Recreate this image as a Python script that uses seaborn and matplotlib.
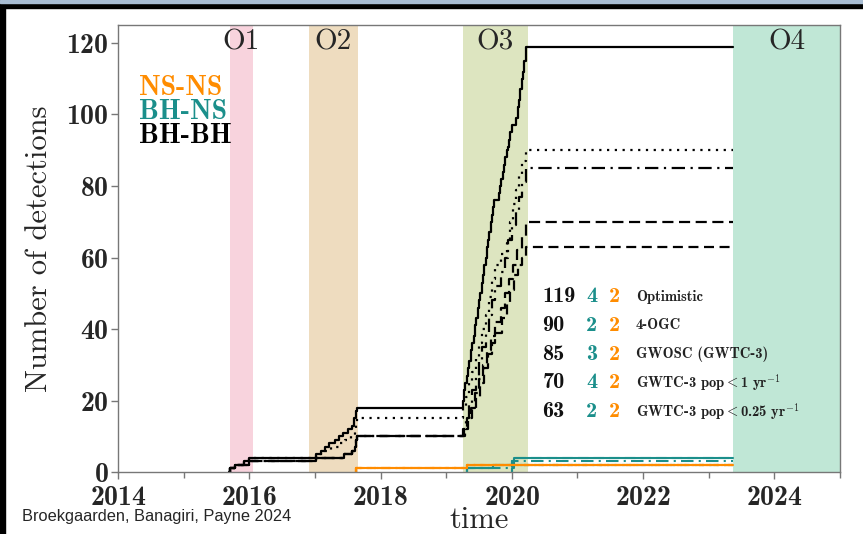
import numpy as np
import seaborn as sns
import matplotlib.pyplot as plt
from matplotlib.patches import Rectangle

# catalogue scenarios and their totals (BH-BH, BH-NS, NS-NS)
scenarios = ['Optimistic', '4-OGC', 'GWOSC (GWTC-3)',
             r'GWTC-3 pop$<$1 yr$^{-1}$', r'GWTC-3 pop$<$0.25 yr$^{-1}$']
n_bbh = [119, 90, 85, 70, 63]
n_nsbh = [4, 2, 3, 4, 2]
n_bns = [2, 2, 2, 2, 2]

# observing runs
runs = ['O1', 'O2', 'O3', 'O4']
run_start = [2015.70, 2016.91, 2019.25, 2023.38]
run_end = [2016.05, 2017.65, 2020.24, 2025.0]
run_colors = ['#f8d3dd', '#eedcbf', '#dde5c0', '#c0e7d6']

END = 2023.38  # curves stop where O4 starts

# cumulative BH-BH detections (time, count)
opt_t = [2015.69, 2015.70, 2015.78, 2015.91, 2015.99, 2017.02, 2017.09, 2017.15, 2017.22,
         2017.30, 2017.37, 2017.42, 2017.50, 2017.56, 2017.60, 2017.62, 2017.64, 2019.25,
         2019.27, 2019.29, 2019.31, 2019.33, 2019.35, 2019.38, 2019.40, 2019.42, 2019.44,
         2019.46, 2019.48, 2019.50, 2019.52, 2019.54, 2019.56, 2019.58, 2019.60, 2019.62,
         2019.64, 2019.66, 2019.68, 2019.70, 2019.72, 2019.73, 2019.80, 2019.82, 2019.84,
         2019.86, 2019.88, 2019.90, 2019.92, 2019.94, 2019.96, 2019.98, 2020.00, 2020.07,
         2020.09, 2020.11, 2020.13, 2020.15, 2020.17, 2020.19, 2020.21, 2020.22, END]
opt_n = [0, 1, 2, 3, 4, 5, 6, 7, 8, 9, 10, 11, 12, 13, 15, 17, 18, 20, 23, 25, 27, 29, 31,
         34, 36, 38, 41, 43, 46, 48, 50, 53, 55, 58, 60, 63, 65, 67, 70, 72, 74, 76, 78, 80,
         82, 84, 86, 88, 90, 91, 93, 95, 97, 99, 102, 104, 107, 110, 112, 115, 117, 119, 119]

ogc_t = [2015.69, 2015.70, 2015.78, 2015.91, 2015.99, 2017.02, 2017.12, 2017.25, 2017.37,
         2017.45, 2017.55, 2017.61, 2017.63, 2017.645, 2019.26, 2019.30, 2019.35, 2019.40,
         2019.45, 2019.50, 2019.55, 2019.60, 2019.65, 2019.70, 2019.74, 2019.84, 2019.93,
         2019.97, 2020.02, 2020.07, 2020.11, 2020.16, 2020.22, END]
ogc_n = [0, 1, 2, 3, 4, 5, 6, 7, 8, 9, 10, 12, 14, 15, 18, 21, 25, 28, 32, 36, 40, 44, 49, 54,
         58, 61, 64, 70, 75, 79, 83, 87, 90, 90]

# GWTC-1 part shared by the GWTC-3 based curves
gwtc1_t = [2015.69, 2015.70, 2015.78, 2015.99, 2017.01, 2017.44, 2017.57, 2017.61, 2017.62,
           2017.63, 2017.645]
gwtc1_n = [0, 1, 2, 3, 4, 5, 6, 7, 8, 9, 10]

gwosc_t = [2019.26, 2019.30, 2019.35, 2019.40, 2019.45, 2019.50, 2019.55, 2019.60, 2019.65,
           2019.70, 2019.74, 2019.84, 2019.90, 2019.95, 2020.00, 2020.06, 2020.11, 2020.16,
           2020.22, END]
gwosc_n = [12, 15, 19, 23, 27, 31, 35, 39, 44, 48, 52, 56, 60, 65, 69, 73, 77, 81, 85, 85]

pop1_t = [2019.27, 2019.32, 2019.38, 2019.44, 2019.50, 2019.56, 2019.62, 2019.68, 2019.74,
          2019.84, 2019.90, 2019.96, 2020.02, 2020.08, 2020.15, 2020.22, END]
pop1_n = [12, 15, 18, 22, 26, 30, 34, 38, 42, 46, 50, 54, 58, 62, 66, 70, 70]

pop025_t = [2019.28, 2019.34, 2019.40, 2019.46, 2019.52, 2019.58, 2019.64, 2019.70, 2019.75,
            2019.85, 2019.92, 2019.98, 2020.04, 2020.10, 2020.16, 2020.22, END]
pop025_n = [12, 15, 18, 21, 25, 29, 33, 36, 39, 43, 47, 51, 55, 58, 60, 63, 63]

# BH-NS
nsbh4_t = [2019.31, 2019.32, 2019.71, 2020.01, 2020.04, END]
nsbh4_n = [0, 1, 2, 3, 4, 4]
nsbh3_t = [2019.31, 2019.32, 2020.01, 2020.04, END]
nsbh3_n = [0, 1, 2, 3, 3]
nsbh2_t = [2020.00, 2020.01, 2020.04, END]
nsbh2_n = [0, 1, 2, 2]

# NS-NS
bns_t = [2017.62, 2017.63, 2019.32, END]
bns_n = [0, 1, 2, 2]

bbh_curves = [(opt_t, opt_n), (ogc_t, ogc_n), (gwtc1_t + gwosc_t, gwtc1_n + gwosc_n),
              (gwtc1_t + pop1_t, gwtc1_n + pop1_n), (gwtc1_t + pop025_t, gwtc1_n + pop025_n)]
nsbh_curves = [(nsbh4_t, nsbh4_n), (nsbh2_t, nsbh2_n), (nsbh3_t, nsbh3_n),
               (nsbh4_t, nsbh4_n), (nsbh2_t, nsbh2_n)]
styles = ['-', (0, (1, 2.5)), (0, (6, 2.5, 1, 2.5)), (0, (5, 2.5)), (0, (4.5, 2.5))]

ORANGE = '#ff8c00'
TEAL = '#1b8f8b'

sns.set_style('ticks')
plt.rcParams['font.family'] = 'cmb10'
plt.rcParams['mathtext.fontset'] = 'cm'
plt.rcParams['axes.formatter.use_mathtext'] = True

fig = plt.figure(figsize=(8.63, 5.34), dpi=100)
ax = fig.add_axes([0.137, 0.116, 0.836, 0.837])

for name, s, e, c in zip(runs, run_start, run_end, run_colors):
    ax.axvspan(s, e, color=c, lw=0, zorder=0)
    ax.text((s + e) / 2, 0.962, name, transform=ax.get_xaxis_transform(),
            ha='center', va='center', fontsize=21, family='cmr10')

for (t, n), ls in zip(bbh_curves, styles):
    sns.lineplot(x=t, y=n, ax=ax, estimator=None, sort=False, drawstyle='steps-post',
                 color='black', linestyle=ls, lw=1.6)
for (t, n), ls in zip(nsbh_curves, styles):
    sns.lineplot(x=t, y=n, ax=ax, estimator=None, sort=False, drawstyle='steps-post',
                 color=TEAL, linestyle=ls, lw=1.5)
for ls in styles:
    sns.lineplot(x=bns_t, y=bns_n, ax=ax, estimator=None, sort=False, drawstyle='steps-post',
                 color=ORANGE, linestyle=ls, lw=1.5)

# summary table
for i, (lab, a, b, c) in enumerate(zip(scenarios, n_bbh, n_nsbh, n_bns)):
    y = 49 - 8 * i
    ax.text(2020.47, y, str(a), ha='left', va='center', fontsize=16, color='#111111')
    ax.text(2021.22, y, str(b), ha='center', va='center', fontsize=16, color=TEAL)
    ax.text(2021.57, y, str(c), ha='center', va='center', fontsize=16, color=ORANGE)
    ax.text(2021.89, y, lab, ha='left', va='center', fontsize=10.5, color='#222222')

# population labels
for k, (lab, col) in enumerate(zip(['NS-NS', 'BH-NS', 'BH-BH'], [ORANGE, TEAL, 'black'])):
    ax.text(2014.32, 107.5 - 6.8 * k, lab, color=col, fontsize=20, ha='left', va='center')

ax.set_xlim(2014, 2025)
ax.set_ylim(0, 125)
ax.set_xticks(range(2014, 2026, 2))
ax.set_xticks(range(2015, 2026, 2), minor=True)
ax.set_yticks(range(0, 121, 20))
ax.tick_params(axis='both', which='both', direction='out', color='#777777', labelsize=20,
               width=1)
ax.tick_params(which='major', length=5, pad=2)
ax.tick_params(axis='x', which='major', pad=4)
ax.tick_params(which='minor', length=4)
for sp in ax.spines.values():
    sp.set_color('#777777')
    sp.set_linewidth(1)
    sp.set_visible(True)

ax.set_xlabel('time', fontsize=22, family='cmr10', labelpad=-3)
ax.set_ylabel('Number of detections', fontsize=22, family='cmr10', labelpad=9)

fig.text(0.025, 0.032, 'Broekgaarden, Banagiri, Payne 2024', family='Liberation Sans',
         fontsize=11.8, ha='left', va='center')

# dark screenshot frame
fig.patches.append(Rectangle((0, 0.985), 1, 0.015, transform=fig.transFigure,
                             color='black', zorder=10))
fig.patches.append(Rectangle((0, 0.994), 1, 0.006, transform=fig.transFigure,
                             color='#a8bdd3', zorder=11))
fig.patches.append(Rectangle((0, 0), 0.006, 1, transform=fig.transFigure,
                             color='black', zorder=10))

fig.savefig('out.png', dpi=100)
